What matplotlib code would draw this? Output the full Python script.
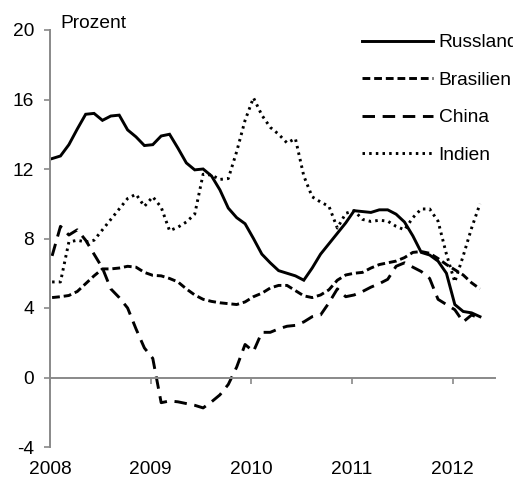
import numpy as np
import matplotlib
matplotlib.use("Agg")
import matplotlib.pyplot as plt

plt.rcParams['font.family'] = ['Liberation Sans', 'DejaVu Sans']
plt.rcParams['lines.scale_dashes'] = False

# Monthly data, Jan 2008 - Apr 2012
start_year = 2008
n_months = 52

russland = [12.6, 12.75, 13.4, 14.3, 15.15, 15.2, 14.8, 15.05, 15.1, 14.25,
            13.85, 13.35, 13.4, 13.9, 14.0, 13.2, 12.35, 11.95, 12.0, 11.6,
            10.8, 9.75, 9.2, 8.85, 8.0, 7.1, 6.6, 6.15, 6.0, 5.85,
            5.6, 6.3, 7.1, 7.7, 8.3, 8.9, 9.6, 9.55, 9.5, 9.65,
            9.65, 9.4, 8.95, 8.15, 7.2, 7.05, 6.7, 6.0, 4.2, 3.8,
            3.72, 3.5]
brasilien = [4.6, 4.65, 4.72, 4.95, 5.4, 5.85, 6.25, 6.25, 6.3, 6.4,
             6.35, 6.05, 5.88, 5.85, 5.7, 5.5, 5.1, 4.75, 4.5, 4.38,
             4.3, 4.25, 4.2, 4.35, 4.65, 4.85, 5.15, 5.3, 5.3, 5.0,
             4.7, 4.6, 4.75, 5.05, 5.6, 5.9, 6.0, 6.05, 6.3, 6.5,
             6.6, 6.7, 6.9, 7.2, 7.25, 7.15, 6.85, 6.5, 6.2, 5.9,
             5.45, 5.1]
china = [7.0, 8.7, 8.2, 8.5, 7.9, 7.1, 6.3, 5.1, 4.6, 4.0,
         2.8, 1.7, 1.1, -1.45, -1.35, -1.4, -1.5, -1.6, -1.75, -1.4,
         -1.0, -0.4, 0.6, 1.9, 1.5, 2.6, 2.6, 2.8, 2.95, 3.0,
         3.2, 3.5, 3.6, 4.3, 5.1, 4.65, 4.75, 4.95, 5.2, 5.4,
         5.65, 6.4, 6.6, 6.35, 6.1, 5.7, 4.5, 4.2, 3.9, 3.2,
         3.6, 3.4]
indien = [5.5, 5.5, 7.8, 7.9, 7.8, 7.9, 8.5, 9.1, 9.7, 10.3,
          10.55, 9.85, 10.4, 9.8, 8.45, 8.65, 8.95, 9.4, 11.7, 11.65,
          11.4, 11.45, 13.0, 14.8, 16.1, 15.1, 14.4, 14.0, 13.5, 13.75,
          11.6, 10.4, 10.1, 9.85, 8.6, 9.45, 9.6, 9.1, 8.98, 9.05,
          9.0, 8.7, 8.5, 9.2, 9.7, 9.7, 9.0, 7.1, 5.5, 7.0,
          8.6, 10.0]

years = [2008, 2009, 2010, 2011, 2012]
yticks = [-4, 0, 4, 8, 12, 16, 20]
labels = ['Russland', 'Brasilien', 'China', 'Indien']

x = start_year + (np.arange(n_months) + 0.25) / 12.0

gray = '#898989'
fs = 13.8
fig = plt.figure(figsize=(5.13, 4.78), dpi=100)
ax = fig.add_axes([50/513, 31/478, 445/513, 417/478])
ax.set_xlim(2008, 2012.42)
ax.set_ylim(-4, 20)

lw = 2.1
ax.plot(x, russland, color='black', lw=lw, linestyle='-', label=labels[0],
        solid_joinstyle='miter')
ax.plot(x, brasilien, color='black', lw=lw, linestyle=(0, (5.6, 2.8)),
        label=labels[1])
ax.plot(x, china, color='black', lw=lw, linestyle=(0, (9.0, 5.5)),
        label=labels[2])
ax.plot(x, indien, color='black', lw=lw, linestyle=(0, (1.8, 3.0)),
        label=labels[3])

for s in ['top', 'right']:
    ax.spines[s].set_visible(False)
ax.spines['left'].set_color(gray)
ax.spines['left'].set_linewidth(1.4)
ax.spines['bottom'].set_position(('data', 0))
ax.spines['bottom'].set_color(gray)
ax.spines['bottom'].set_linewidth(1.4)

ax.set_yticks(yticks)
ax.set_yticklabels([str(v) for v in yticks])
ax.tick_params(axis='y', direction='out', length=4.5, width=1.2, color=gray,
               labelsize=fs, pad=7)
ax.set_xticks(years)
ax.tick_params(axis='x', direction='out', length=4, width=1.2, color=gray,
               labelbottom=False)

sec = ax.secondary_xaxis(0)
sec.spines['bottom'].set_visible(False)
sec.set_xticks(years)
sec.set_xticklabels([str(v) for v in years])
sec.tick_params(axis='x', length=0, labelsize=fs, pad=10)

fig.text(60/513, 1 - 23/478, 'Prozent', fontsize=fs, ha='left', va='center')

leg = fig.legend(loc='upper left', bbox_to_anchor=(362/513, 1 - 34/478),
                 frameon=False, fontsize=fs, handlelength=3.7,
                 handletextpad=0.3, labelspacing=1.05, borderpad=0,
                 borderaxespad=0)

fig.savefig('out.png', dpi=100)
